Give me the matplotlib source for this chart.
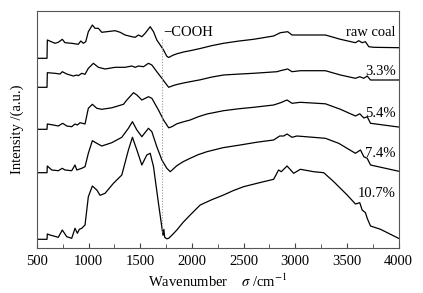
import numpy as np
import matplotlib
matplotlib.use("Agg")
import matplotlib.pyplot as plt

plt.rcParams['font.family'] = ['Liberation Serif', 'DejaVu Serif']
plt.rcParams['mathtext.fontset'] = 'stix'

# FTIR spectra, intensity in a.u. relative to each trace's own baseline
w_raw = [500, 597, 600, 674, 706, 745, 771, 836, 900, 924, 949, 972, 997, 1036, 1062, 1094, 1127, 1176,
         1256, 1305, 1353, 1418, 1450, 1482, 1515, 1547, 1596, 1628, 1660, 1693, 1725, 1757, 1775, 1815,
         1854, 1918, 1983, 2080, 2190, 2306, 2450, 2597, 2791, 2856, 2927, 2969, 3050, 3292, 3438, 3583,
         3615, 3648, 3680, 3712, 3761, 4000]
v_raw = [0, 0, 18.3, 15, 16, 19, 15.6, 15, 14, 17.3, 15, 16.6, 26.6, 33.3, 30, 30, 26, 26.6,
         27.6, 26, 23.3, 21.6, 21, 23.3, 21.6, 25, 31.6, 26.6, 18.3, 13.3, 8.3, 2, 0.8, 3.0,
         4.5, 6.3, 7.6, 9.8, 12.6, 15, 17.2, 19, 22.3, 25.6, 26.6, 23.3, 23.3, 23.3, 19, 15.6,
         17.6, 15.6, 16.6, 11.6, 11, 10.6]

w_33 = [500, 597, 600, 674, 723, 745, 788, 852, 885, 900, 933, 965, 997, 1046, 1094, 1159, 1256, 1353,
        1418, 1450, 1482, 1531, 1579, 1612, 1660, 1709, 1757, 1775, 1815, 1854, 1918, 1983, 2080, 2190,
        2306, 2450, 2597, 2824, 2856, 2927, 2969, 3050, 3292, 3438, 3583, 3625, 3664, 3697, 3729, 4000]
v_33 = [0, 0, 14.6, 14, 13.3, 15.6, 13.3, 11.3, 12.3, 11.6, 14, 13, 19, 24, 20, 18.3, 20, 20,
        21.3, 20, 21.3, 20.6, 24, 22.3, 15.6, 9, 2.3, 0, 1.6, 2.8, 4.3, 5.6, 7.5, 10.2,
        12.3, 13.2, 14, 15.6, 16.6, 18.3, 15.6, 16.6, 16.6, 12.3, 9, 10.6, 9, 11.3, 7.3, 7.3]

w_54 = [500, 597, 600, 658, 706, 749, 788, 836, 868, 891, 917, 965, 997, 1036, 1079, 1127, 1224, 1337,
        1370, 1434, 1467, 1515, 1579, 1612, 1676, 1725, 1775, 1806, 1854, 1918, 1983, 2060, 2145, 2306,
        2450, 2597, 2791, 2856, 2921, 2969, 3050, 3292, 3438, 3583, 3625, 3664, 3697, 3729, 4000]
v_54 = [0, 0, 5.3, 4.3, 3.3, 6, 3.3, 2.6, 5.3, 4.3, 6.6, 5.3, 21, 25, 21, 20, 21.5, 25,
        29.3, 36.6, 34.3, 29.3, 32.6, 31, 19.3, 9.3, 1.5, 2.6, 5.5, 7.5, 9.3, 12.5, 15.3, 18.6,
        20.5, 22, 24.3, 26.5, 29.3, 26, 27, 25.5, 20, 13.3, 15.5, 11.3, 12.6, 6, 2.3]

w_74 = [500, 597, 600, 643, 706, 745, 771, 836, 868, 885, 933, 965, 997, 1036, 1079, 1127, 1224, 1321,
        1385, 1424, 1467, 1515, 1579, 1612, 1660, 1709, 1757, 1790, 1820, 1854, 1915, 1983, 2060, 2145,
        2300, 2467, 2630, 2791, 2850, 2888, 2921, 2969, 3017, 3292, 3421, 3583, 3632, 3664, 3697, 3729,
        4000]
v_74 = [0, 0, 6.7, 2.7, 2, 4.4, 2.7, 2, 7.7, 2.7, 4.4, 6, 19.4, 32, 29.4, 26.7, 30, 35.4,
        44.4, 51, 42.7, 36, 44.4, 41, 26, 12.7, 4.4, 1, 3.8, 7, 11, 14.4, 18, 21,
        25, 27.7, 30.5, 32.7, 36.7, 36.7, 38.7, 35.4, 36.7, 34.4, 29.4, 19.4, 22.7, 16, 14.4, 7.7,
        1.5]

w_107 = [500, 597, 600, 626, 706, 745, 788, 836, 868, 891, 910, 933, 965, 997, 1036, 1079, 1111, 1159,
         1240, 1321, 1385, 1424, 1467, 1515, 1563, 1596, 1628, 1676, 1709, 1720, 1728, 1736, 1757, 1775,
         1810, 1854, 1915, 1983, 2080, 2190, 2306, 2400, 2500, 2650, 2791, 2839, 2865, 2921, 2985, 3050,
         3179, 3276, 3373, 3503, 3583, 3625, 3648, 3680, 3697, 3729, 3826, 4000]
v_107 = [0, 0, 5.3, 4.3, 2, 9.3, 2.6, 1, 11, 6, 10, 11, 14.3, 42.6, 53.3, 49.3, 44, 46,
         56, 64.3, 89.3, 102, 89.3, 74.3, 84.3, 86, 72.6, 36, 12, 4, 10, 2, 0.5, 1,
         4.5, 9.3, 17, 24.3, 34.3, 39.5, 44.3, 48.7, 52.6, 56.5, 60, 69.3, 67.6, 73.3, 66, 70,
         67.6, 66.6, 57.6, 44.3, 35.3, 36.6, 29.3, 26.6, 21, 13.3, 10, 1]

labels = ['raw coal', '3.3%', '5.4%', '7.4%', '10.7%']
waves = [w_raw, w_33, w_54, w_74, w_107]
values = [v_raw, v_33, v_54, v_74, v_107]
offsets = [189.7, 160.7, 118.7, 75.3, 8.7]     # vertical stacking
label_y = [216, 177, 135, 95, 55]

fig = plt.figure(figsize=(4.23, 2.93), dpi=100)
ax = fig.add_axes([37 / 423, 1 - 248 / 293, 361.5 / 423, 237 / 293])

for w, v, off in zip(waves, values, offsets):
    ax.plot(w, np.array(v) + off, color='black', lw=0.9)

for lab, ly in zip(labels, label_y):
    ax.text(3975, ly, lab, ha='right', va='center', fontsize=10.5)

# carboxyl band marker
ax.plot([1710, 1710], [16, 210], color='#999999', lw=0.8, ls=(0, (1, 1.5)))
ax.text(1725, 216, '\u2212COOH', ha='left', va='center', fontsize=10.5)

ax.set_xlim(500, 4000)
ax.set_ylim(0, 237)
ax.set_xticks(np.arange(500, 4001, 500))
ax.set_xticks(np.arange(750, 4000, 500), minor=True)
ax.set_yticks([])
ax.tick_params(axis='x', which='both', direction='in', top=False, labelsize=10.5, pad=5, color='#444444')
ax.tick_params(axis='x', which='major', length=3.5)
ax.tick_params(axis='x', which='minor', length=3)
for s in ax.spines.values():
    s.set_color('#555555')
    s.set_linewidth(0.8)

fig.text(218 / 423, 1 - 281.7 / 293, r'Wavenumber    $\sigma$ /cm$^{-1}$', ha='center', va='center', fontsize=10.5)
fig.text(17 / 423, 1 - 129.5 / 293, 'Intensity /(a.u.)', ha='center', va='center', rotation=90, fontsize=10.5)

fig.savefig('out.png', dpi=100)
